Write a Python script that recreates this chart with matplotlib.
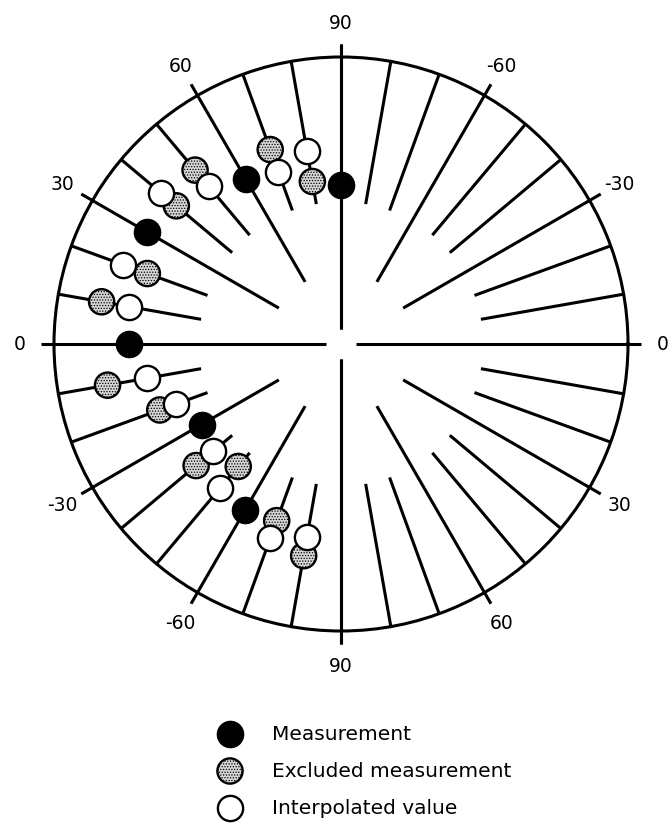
import numpy as np
import matplotlib
matplotlib.use("Agg")
from matplotlib import pyplot as plt

# spokes, in degrees, for each half of the rose (left: 180 - v, right: -v)
spoke_values = [-90, -80, -70, -60, -50, -40, -30, -20, -10, 0,
                10, 20, 30, 40, 50, 60, 70, 80, 90]
left_labels = {90: "90", 60: "60", 30: "30", 0: "0", -30: "-30", -60: "-60", -90: "90"}
right_labels = {-60: "-60", -30: "-30", 0: "0", 30: "30", 60: "60"}

# radial position of each point, as fraction of the outer circle
measured_spoke = [90, 60, 30, 0, -30, -60]
measured_r = [0.554, 0.662, 0.780, 0.739, 0.561, 0.669]

excluded_spoke = [80, 70, 50, 40, 20, 10, -10, -20, -40, -50, -70, -80]
excluded_r = [0.575, 0.721, 0.791, 0.749, 0.718, 0.847,
              0.826, 0.672, 0.659, 0.557, 0.655, 0.749]

interp_spoke = [80, 70, 50, 40, 20, 10, -10, -20, -40, -50, -70, -80]
interp_r = [0.683, 0.638, 0.718, 0.819, 0.808, 0.749,
            0.686, 0.610, 0.582, 0.655, 0.721, 0.683]


def left_theta(v):
    return np.deg2rad(180 - np.asarray(v, dtype=float))


def right_theta(v):
    return np.deg2rad(-np.asarray(v, dtype=float))


def inner_radius(v):
    if v % 90 == 0:
        return 0.052
    if v % 30 == 0:
        return 0.25
    return 0.495


plt.rcParams["hatch.linewidth"] = 0.6
plt.rcParams["hatch.color"] = "#555555"

W, H = 668, 829
fig = plt.figure(figsize=(W / 100, H / 100), dpi=100)
cx, cy, R = 341, 345, 287
ax = fig.add_axes([(cx - R) / W, (H - cy - R) / H, 2 * R / W, 2 * R / H],
                  projection="polar")
ax.set_ylim(0, 1)
ax.grid(False)
ax.set_xticks([])
ax.set_yticks([])
ax.spines["polar"].set_linewidth(2.2)

LW = 2.2
for v in spoke_values:
    r0 = inner_radius(v)
    r1 = 1.045 if v % 30 == 0 else 1.0
    for th in (left_theta(v), right_theta(v)):
        ax.plot([th, th], [r0, r1], color="black", lw=LW,
                solid_capstyle="butt", clip_on=False, zorder=2)

for v, s in left_labels.items():
    ax.text(left_theta(v), 1.12, s, ha="center", va="center", fontsize=13.5)
for v, s in right_labels.items():
    ax.text(right_theta(v), 1.12, s, ha="center", va="center", fontsize=13.5)

size, ew = 330, 1.7
stip = dict(s=size, linewidths=ew, edgecolors="black", facecolors="#d6d6d6",
            hatch="......")
white = dict(s=size, linewidths=ew, edgecolors="black", facecolors="white")
black = dict(s=size, linewidths=ew, edgecolors="black", facecolors="black")

ax.scatter(left_theta(excluded_spoke), excluded_r, zorder=3, **stip)
ax.scatter(left_theta(interp_spoke), interp_r, zorder=4, **white)
ax.scatter(left_theta(measured_spoke), measured_r, zorder=5, **black)

# legend drawn in pixel coordinates below the rose
leg = fig.add_axes([0, 0, 1, 1], facecolor="none")
leg.set_xlim(0, W)
leg.set_ylim(H, 0)
leg.axis("off")
legend_items = [("Measurement", black), ("Excluded measurement", stip),
                ("Interpolated value", white)]
for i, (label, style) in enumerate(legend_items):
    y = 735 + 37 * i
    leg.scatter([230], [y], **style)
    leg.text(272, y, label, ha="left", va="center", fontsize=14.5)

fig.savefig("out.png", dpi=100)
